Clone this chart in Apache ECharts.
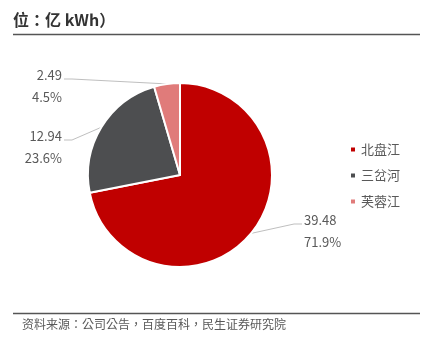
<!DOCTYPE html>
<html>
<head>
<meta charset="utf-8">
<script src="https://cdn.jsdelivr.net/npm/echarts@6/dist/echarts.min.js"></script>
<style>
  html, body { margin: 0; padding: 0; background: #fff; }
</style>
</head>
<body>
<div id="main" style="width:424px;height:354px;"></div>
<script type="text/javascript">
  // 数据
  var names = ['北盘江', '三岔河', '芙蓉江'];
  var values = [39.48, 12.94, 2.49];
  var colors = ['#c00000', '#4d4e50', '#e07b7a'];
  var unitText = '位：亿 kWh）';
  var sourceText = '资料来源：公司公告，百度百科，民生证券研究院';

  var pieData = [];
  for (var i = 0; i < names.length; i++) {
    pieData.push({ name: names[i], value: values[i], itemStyle: { color: colors[i] } });
  }

  // 标签摆放（像素）：左侧标签右对齐到 leftEdge，右侧左对齐到 rightEdge
  var leftEdge = 62, rightEdge = 304;
  var labelTop = [209, 125, 64];

  var font = '"Noto Sans CJK SC", "Noto Sans", sans-serif';
  // 标点居中的字形
  var puncFont = '"Noto Sans CJK TC", "Noto Sans CJK SC", sans-serif';
  var myChart = echarts.init(document.getElementById('main'));
  var option = {
    backgroundColor: '#fff',
    textStyle: { fontFamily: font },
    legend: {
      orient: 'vertical',
      left: 344,
      top: 138,
      icon: 'rect',
      itemWidth: 6,
      itemHeight: 6,
      itemGap: 13,
      data: names,
      textStyle: { fontSize: 13, color: '#595959', fontFamily: font }
    },
    graphic: [
      {
        type: 'text', left: 13, top: 12,
        style: { text: unitText, font: 'bold 16px ' + puncFont, fill: '#333' }
      },
      {
        type: 'line', shape: { x1: 13, y1: 34.5, x2: 420, y2: 34.5 },
        style: { stroke: '#555', lineWidth: 1.5 }
      },
      {
        type: 'line', shape: { x1: 13, y1: 313.5, x2: 420, y2: 313.5 },
        style: { stroke: '#555', lineWidth: 1.5 }
      },
      {
        type: 'text', left: 22, top: 318,
        style: { text: sourceText, font: '12px ' + puncFont, fill: '#595959' }
      }
    ],
    series: [
      {
        type: 'pie',
        center: [180, 175],
        radius: 92,
        startAngle: 90,
        clockwise: true,
        percentPrecision: 1,
        data: pieData,
        itemStyle: { borderColor: '#fff', borderWidth: 2 },
        label: {
          formatter: '{c}\n{d}%',
          fontSize: 13,
          lineHeight: 22,
          color: '#595959',
          fontFamily: font
        },
        labelLine: {
          length: 15,
          length2: 25,
          lineStyle: { color: '#bfbfbf', width: 1 }
        },
        labelLayout: function (params) {
          var idx = params.dataIndex;
          var p0 = params.labelLinePoints[0];
          var isLeft = p0[0] < 180;
          var top = labelTop[idx];
          var endY = top + 15;
          var endX = isLeft ? leftEdge + 2 : rightEdge - 2;
          var elbowX = isLeft ? endX + 8 : endX - 8;
          return {
            x: isLeft ? leftEdge : rightEdge,
            y: top,
            align: isLeft ? 'right' : 'left',
            verticalAlign: 'top',
            labelLinePoints: [p0, [elbowX, endY], [endX, endY]]
          };
        }
      }
    ]
  };
  myChart.setOption(option);
</script>
</body>
</html>
